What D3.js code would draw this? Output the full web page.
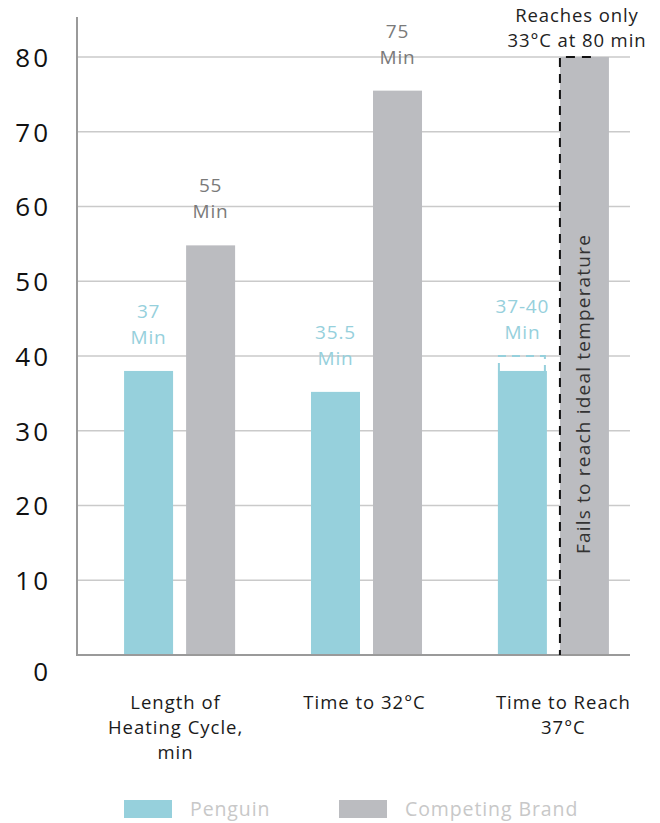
<!DOCTYPE html>
<html>
<head>
<meta charset="utf-8">
<script src="https://cdn.jsdelivr.net/npm/d3@7"></script>
<style>
  body { margin: 0; background: #fff; }
  svg text { font-family: "Open Sans", "DejaVu Sans", sans-serif; }
</style>
</head>
<body>
<div id="container"></div>
<script>
// data
var categories = ["Length of Heating Cycle, min", "Time to 32°C", "Time to Reach 37°C"];
var categoryLines = [["Length of", "Heating Cycle,", "min"], ["Time to 32°C"], ["Time to Reach", "37°C"]];
var penguin = [38, 35.2, 38];
var competing = [54.8, 75.5, 80];
var penguinLabels = ["37", "35.5", "37-40"];
var competingLabels = ["55", "75", ""];
var penguinRangeTop = [null, null, 40];
var yTicks = [0, 10, 20, 30, 40, 50, 60, 70, 80];
var seriesNames = ["Penguin", "Competing Brand"];

var W = 660, H = 823;
var colPenguin = "#96d0dc", colComp = "#bbbcc0";

var svg = d3.select("#container")
  .append("svg")
    .attr("width", W)
    .attr("height", H);

// scales
var y = d3.scaleLinear()
  .domain([0, 80])
  .range([655, 57]);

var x0 = d3.scaleBand()
  .domain(categories)
  .range([68, 665])
  .paddingInner(0.406)
  .paddingOuter(0.3);

var x1 = d3.scaleBand()
  .domain(seriesNames)
  .range([0, x0.bandwidth()])
  .paddingInner(0.21);

// gridlines
svg.append("g")
  .selectAll("line")
  .data(yTicks.filter(function(d) { return d > 0; }))
  .enter()
  .append("line")
    .attr("x1", 77)
    .attr("x2", 630)
    .attr("y1", function(d) { return y(d); })
    .attr("y2", function(d) { return y(d); })
    .attr("stroke", "#cacaca")
    .attr("stroke-width", 1.5);

// y axis labels
var yAxis = svg.append("g")
  .attr("transform", "translate(51,0)")
  .call(d3.axisLeft(y).tickValues(yTicks).tickSize(0).tickPadding(0));
yAxis.select(".domain").remove();
yAxis.selectAll("text")
  .style("font-size", "26px")
  .style("letter-spacing", "3px")
  .style("fill", "#111")
  .attr("dy", "0.36em");
yAxis.selectAll(".tick")
  .filter(function(d) { return d === 0; })
  .select("text")
  .attr("transform", "translate(0,16)");

// bars
var groups = svg.append("g")
  .selectAll("g")
  .data(categories)
  .enter()
  .append("g")
    .attr("transform", function(d) { return "translate(" + x0(d) + ",0)"; });

groups.append("rect")
  .attr("x", x1("Penguin"))
  .attr("y", function(d, i) { return y(penguin[i]); })
  .attr("width", x1.bandwidth())
  .attr("height", function(d, i) { return y(0) - y(penguin[i]); })
  .attr("fill", colPenguin);

groups.append("rect")
  .attr("x", x1("Competing Brand"))
  .attr("y", function(d, i) { return y(competing[i]); })
  .attr("width", x1.bandwidth())
  .attr("height", function(d, i) { return y(0) - y(competing[i]); })
  .attr("fill", colComp);

// axis lines
svg.append("line")
  .attr("x1", 77).attr("x2", 77)
  .attr("y1", 17).attr("y2", y(0))
  .attr("stroke", "#9a9a9a").attr("stroke-width", 2);
svg.append("line")
  .attr("x1", 76).attr("x2", 630)
  .attr("y1", y(0)).attr("y2", y(0))
  .attr("stroke", "#9a9a9a").attr("stroke-width", 2);

// value labels
groups.each(function(d, i) {
  var g = d3.select(this);
  var cx = x1("Penguin") + x1.bandwidth() / 2;
  var top = penguinRangeTop[i] != null ? y(penguinRangeTop[i]) + 10 : y(penguin[i]);
  g.append("text")
    .attr("x", cx).attr("y", top - 53)
    .attr("text-anchor", "middle")
    .style("font-size", "19px").style("letter-spacing", "0.8px").style("fill", colPenguin)
    .text(penguinLabels[i]);
  g.append("text")
    .attr("x", cx).attr("y", top - 27)
    .attr("text-anchor", "middle")
    .style("font-size", "19px").style("letter-spacing", "0.8px").style("fill", colPenguin)
    .text("Min");

  // dashed range bracket
  if (penguinRangeTop[i] != null) {
    var bx = x1("Penguin");
    g.append("path")
      .attr("d", "M" + (bx + 1) + "," + y(penguin[i]) + "V" + y(penguinRangeTop[i]) +
                 "H" + (bx + x1.bandwidth() - 2) + "V" + y(penguin[i]))
      .attr("fill", "none")
      .attr("stroke", colPenguin)
      .attr("stroke-width", 2)
      .attr("stroke-dasharray", "8,6");
  }

  if (competingLabels[i]) {
    var cx2 = x1("Competing Brand") + x1.bandwidth() / 2;
    var top2 = y(competing[i]);
    g.append("text")
      .attr("x", cx2).attr("y", top2 - 53)
      .attr("text-anchor", "middle")
      .style("font-size", "19px").style("letter-spacing", "0.8px").style("fill", "#7a7a7a")
      .text(competingLabels[i]);
    g.append("text")
      .attr("x", cx2).attr("y", top2 - 27)
      .attr("text-anchor", "middle")
      .style("font-size", "19px").style("letter-spacing", "0.8px").style("fill", "#7a7a7a")
      .text("Min");
  }
});

// third competing bar: dashed outline, rotated note, top note
var c3 = categories[2];
var bx3 = x0(c3) + x1("Competing Brand");
var bw3 = x1.bandwidth();
svg.append("path")
  .attr("d", "M" + (bx3 + 31) + "," + y(80) + "H" + bx3 + "V" + y(0))
  .attr("fill", "none")
  .attr("stroke", "#111")
  .attr("stroke-width", 2)
  .attr("stroke-dasharray", "9,7");

svg.append("text")
  .attr("transform", "translate(" + (bx3 + bw3 / 2 + 6) + "," + ((y(0) + y(80)) / 2 + 38) + ") rotate(-90)")
  .attr("text-anchor", "middle")
  .style("font-size", "19px").style("letter-spacing", "1.2px").style("fill", "#333")
  .text("Fails to reach ideal temperature");

svg.append("text")
  .attr("x", 577).attr("y", 22)
  .attr("text-anchor", "middle")
  .style("font-size", "18.5px").style("letter-spacing", "0.9px").style("fill", "#222")
  .text("Reaches only");
svg.append("text")
  .attr("x", 577).attr("y", 47)
  .attr("text-anchor", "middle")
  .style("font-size", "18.5px").style("letter-spacing", "0.9px").style("fill", "#222")
  .text("33°C at 80 min");

// category labels
var labelShift = [-4, -2, 10];
groups.each(function(d, i) {
  var g = d3.select(this);
  categoryLines[i].forEach(function(line, j) {
    g.append("text")
      .attr("x", x0.bandwidth() / 2 + labelShift[i])
      .attr("y", 709 + j * 25)
      .attr("text-anchor", "middle")
      .style("font-size", "18.5px").style("letter-spacing", "1px").style("fill", "#1a1a1a")
      .text(line);
  });
});

// legend
var legend = svg.append("g")
  .selectAll("g")
  .data(seriesNames)
  .enter()
  .append("g")
    .attr("transform", function(d, i) { return "translate(" + (i === 0 ? 124 : 339) + ",800)"; });
legend.append("rect")
  .attr("width", 48).attr("height", 18)
  .attr("fill", function(d, i) { return i === 0 ? colPenguin : colComp; });
legend.append("text")
  .attr("x", 66).attr("y", 16)
  .style("font-size", "19.5px").style("letter-spacing", "0.9px").style("fill", "#c8c8c8")
  .text(function(d) { return d; });
</script>
</body>
</html>
